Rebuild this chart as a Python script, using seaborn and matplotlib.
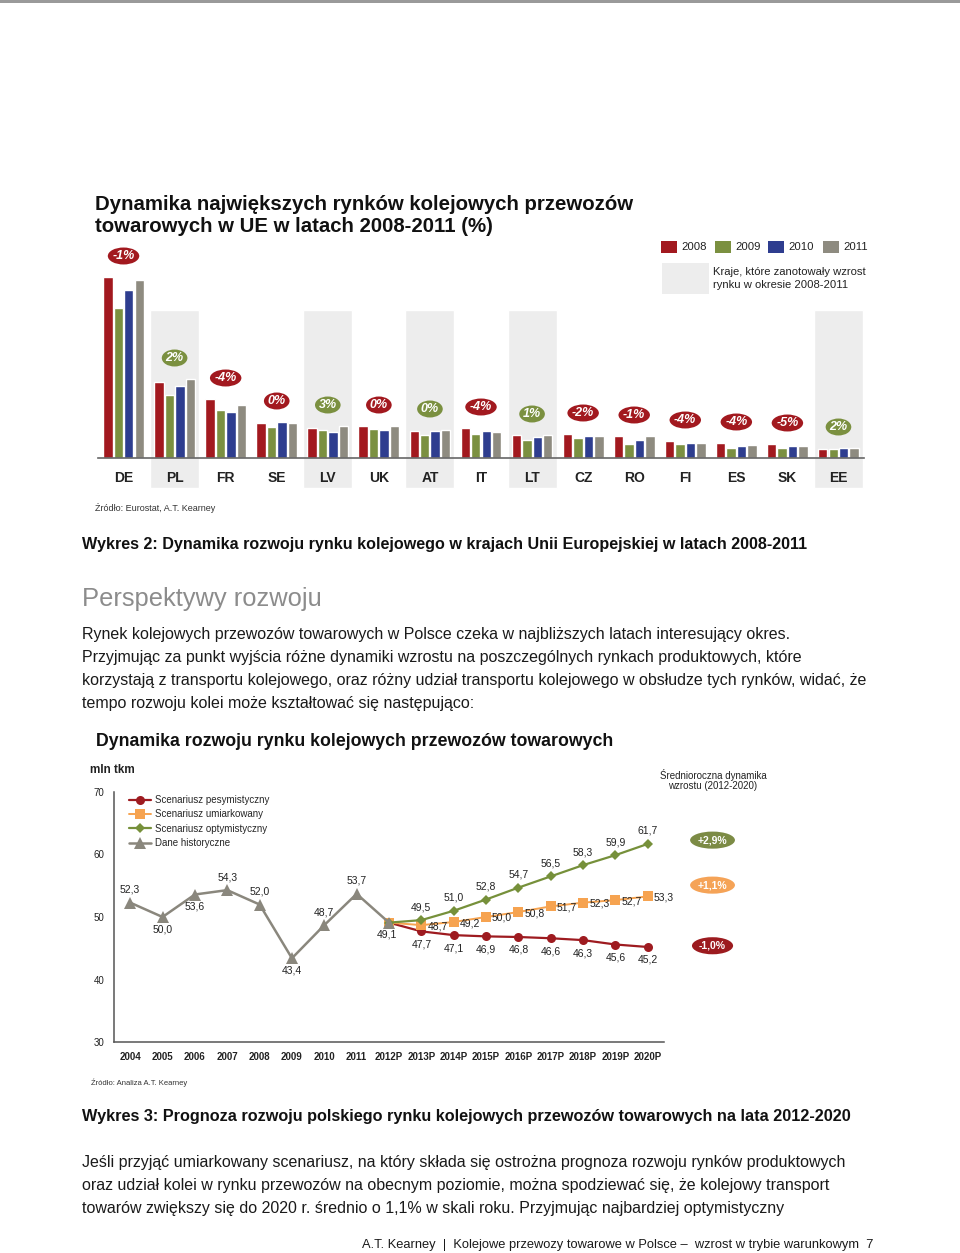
import numpy as np
import pandas as pd
import matplotlib
matplotlib.use("Agg")
import matplotlib.pyplot as plt
from matplotlib.patches import Rectangle
import seaborn as sns

# --- bar chart data (bar heights, no axis scale shown) ---
countries = ["DE", "PL", "FR", "SE", "LV", "UK", "AT", "IT", "LT", "CZ", "RO", "FI", "ES", "SK", "EE"]
v2008 = [181, 76, 59, 35, 30, 32, 27, 30, 23, 24, 22, 17, 15, 14, 9]
v2009 = [150, 63, 48, 31, 28, 29, 23, 24, 18, 20, 14, 14, 10, 10, 9]
v2010 = [168, 72, 46, 36, 26, 28, 27, 27, 21, 22, 18, 15, 12, 12, 10]
v2011 = [178, 79, 53, 35, 32, 32, 28, 26, 23, 22, 22, 15, 13, 12, 10]
change = ["-1%", "2%", "-4%", "0%", "3%", "0%", "0%", "-4%", "1%", "-2%", "-1%", "-4%", "-4%", "-5%", "2%"]
grew = [False, True, False, False, True, False, True, False, True, False, False, False, False, False, True]
bar_years = ["2008", "2009", "2010", "2011"]

# --- line chart data (mln tkm) ---
years = ["2004", "2005", "2006", "2007", "2008", "2009", "2010", "2011",
         "2012P", "2013P", "2014P", "2015P", "2016P", "2017P", "2018P", "2019P", "2020P"]
historical = [52.3, 50.0, 53.6, 54.3, 52.0, 43.4, 48.7, 53.7, 49.1]
hist_side = ["up", "down", "down", "up", "up", "down", "up", "up", "down"]
pessimistic = [49.1, 47.7, 47.1, 46.9, 46.8, 46.6, 46.3, 45.6, 45.2]
moderate = [49.1, 48.7, 49.2, 50.0, 50.8, 51.7, 52.3, 52.7, 53.3]
optimistic = [49.1, 49.5, 51.0, 52.8, 54.7, 56.5, 58.3, 59.9, 61.7]
cagr = ["+2,9%", "+1,1%", "-1,0%"]

RED = "#A2191F"
OLIVE = "#7B9040"
BLUE = "#2E3D8F"
GRAY = "#8E8B80"
ORANGE = "#F6A350"
SHADE = "#EDEDED"
bar_colors = [RED, OLIVE, BLUE, GRAY]

sns.set_style("white")
plt.rcParams["font.family"] = ["Liberation Sans", "DejaVu Sans"]

fig = plt.figure(figsize=(9.6, 12.53), dpi=100)
W, H = 960, 1253


def box(x0, y0, x1, y1):
    # pixel box (top-left origin) -> figure fraction rect
    return [x0 / W, 1 - y1 / H, (x1 - x0) / W, (y1 - y0) / H]


# ================= bar chart =================
ax1 = fig.add_axes(box(98, 248, 864, 458))
bars = pd.DataFrame({
    "country": np.repeat(countries, 4),
    "year": bar_years * len(countries),
    "value": np.ravel(np.column_stack([v2008, v2009, v2010, v2011])),
})
for i, g in enumerate(grew):
    if g:
        ax1.bar(i, 178, bottom=-30, width=0.96, color=SHADE, zorder=0, clip_on=False)
sns.barplot(data=bars, x="country", y="value", hue="year", palette=bar_colors,
            saturation=1, width=0.82, gap=0.1, errorbar=None, legend=False, ax=ax1, zorder=2)
ax1.set_xlim(-0.5, len(countries) - 0.5)
ax1.set_ylim(0, 210)
ax1.set_xlabel("")
ax1.set_ylabel("")
ax1.set_yticks([])
ax1.set_xticks(range(len(countries)))
ax1.set_xticklabels(countries, fontsize=10, fontweight="bold", color="#222")
ax1.set_xticks(np.arange(-0.5, len(countries), 1), minor=True)
ax1.tick_params(axis="x", which="major", length=0, pad=9)
ax1.tick_params(axis="x", which="minor", length=5, width=1, color="#666", direction="out")
for s in ["top", "left", "right"]:
    ax1.spines[s].set_visible(False)
ax1.spines["bottom"].set_color("#666")
ax1.spines["bottom"].set_linewidth(1.2)
ax1.patch.set_alpha(0)

tops = np.max(np.column_stack([v2008, v2009, v2010, v2011]), axis=1)
for i, lab in enumerate(change):
    ax1.text(i, tops[i] + 21, lab, ha="center", va="center", fontsize=9, fontweight="bold",
             style="italic", color="white", zorder=5,
             bbox=dict(boxstyle="ellipse,pad=0.0", fc=OLIVE if grew[i] else RED, ec="none"))

# ================= line chart =================
ax2 = fig.add_axes(box(114, 792, 664, 1042))
n_hist = len(historical)
fc_pos = list(range(n_hist - 1, len(years)))
series = [
    ("Scenariusz pesymistyczny", pessimistic, "o", 6.5, "#9E1B20", 1.6),
    ("Scenariusz umiarkowany", moderate, "s", 6.5, ORANGE, 1.4),
    ("Scenariusz optymistyczny", optimistic, "D", 5, "#76903A", 1.6),
]
for name, vals, mk, ms, col, lw in series:
    sns.lineplot(x=fc_pos, y=vals, marker=mk, markersize=ms, markeredgewidth=0,
                 color=col, linewidth=lw, label=name, ax=ax2)
sns.lineplot(x=list(range(n_hist)), y=historical, marker="^", markersize=8, markeredgewidth=0,
             color="#8A877D", linewidth=1.8, label="Dane historyczne", ax=ax2)

ax2.set_xlim(-0.5, len(years) - 0.5)
ax2.set_ylim(30, 70)
ax2.set_yticks([30, 40, 50, 60, 70])
ax2.set_yticklabels(["30", "40", "50", "60", "70"], fontsize=7, color="#222")
ax2.set_xticks(range(len(years)))
ax2.set_xticklabels(years, fontsize=7, fontweight="bold", color="#222")
ax2.set_xticks(np.arange(-0.5, len(years), 1), minor=True)
ax2.tick_params(axis="x", which="major", length=0, pad=7)
ax2.tick_params(axis="x", which="minor", length=4, width=1, color="#555", direction="out")
ax2.tick_params(axis="y", which="major", length=4, width=1, color="#555", direction="out", pad=3)
ax2.set_xlabel("")
ax2.set_ylabel("")
for s in ["top", "right"]:
    ax2.spines[s].set_visible(False)
for s in ["left", "bottom"]:
    ax2.spines[s].set_color("#555")
    ax2.spines[s].set_linewidth(1.1)
ax2.patch.set_alpha(0)

ax2.legend(loc="upper left", bbox_to_anchor=(0.027, 0.988), frameon=False, fontsize=7,
           handlelength=2.3, handletextpad=0.4, labelspacing=0.45,
           borderpad=0, borderaxespad=0)


def fmt(v):
    return f"{v:.1f}".replace(".", ",")


lab_kw = dict(fontsize=7.5, color="#222", textcoords="offset pixels")
for i, (v, side) in enumerate(zip(historical, hist_side)):
    dy = 13 if side == "up" else -12
    ax2.annotate(fmt(v), (i, v), xytext=(-2 if i == n_hist - 1 else 0, dy),
                 ha="center", va="center", **lab_kw)
for x, v in zip(fc_pos[1:], pessimistic[1:]):
    ax2.annotate(fmt(v), (x, v), xytext=(0, -13), ha="center", va="center", **lab_kw)
for x, v in zip(fc_pos[1:], moderate[1:]):
    ax2.annotate(fmt(v), (x, v), xytext=(6, -1), ha="left", va="center", **lab_kw)
for x, v in zip(fc_pos[1:], optimistic[1:]):
    ax2.annotate(fmt(v), (x, v), xytext=(0, 13), ha="center", va="center", **lab_kw)

badge_y = [62.3, 55.1, 45.4]
for lab, y, col in zip(cagr, badge_y, ["#7C8B45", "#F5A357", "#9C1B1F"]):
    ax2.text(18.0, y, lab, ha="center", va="center", fontsize=7.5, fontweight="bold",
             color="white", clip_on=False,
             bbox=dict(boxstyle="ellipse,pad=0.1", fc=col, ec="none"))

# ================= page text (pixel coordinates) =================
page = fig.add_axes([0, 0, 1, 1])
page.set_xlim(0, W)
page.set_ylim(H, 0)
page.axis("off")
page.add_patch(Rectangle((0, 0), W, 3, fc="#9A9A9A", ec="none"))

page.text(95, 204, "Dynamika największych rynków kolejowych przewozów", fontsize=14.7,
          fontweight="bold", va="center", color="#111")
page.text(95, 226, "towarowych w UE w latach 2008-2011 (%)", fontsize=14.7,
          fontweight="bold", va="center", color="#111")

leg_x = [661, 715, 768, 823]
for x, yr, col in zip(leg_x, bar_years, bar_colors):
    page.add_patch(Rectangle((x, 241), 16, 12, fc=col, ec="none"))
    page.text(x + 20, 247, yr, fontsize=8.2, va="center", color="#222")
page.add_patch(Rectangle((662, 263), 47, 31, fc=SHADE, ec="none"))
page.text(713, 272, "Kraje, które zanotowały wzrost", fontsize=8.1, va="center", color="#222")
page.text(713, 285, "rynku w okresie 2008-2011", fontsize=8.1, va="center", color="#222")

page.text(95, 508, "Źródło: Eurostat, A.T. Kearney", fontsize=6.5, va="center", color="#333")
page.text(82, 545, "Wykres 2: Dynamika rozwoju rynku kolejowego w krajach Unii Europejskiej w latach 2008-2011",
          fontsize=11.6, fontweight="bold", va="center", color="#111")
page.text(82, 599, "Perspektywy rozwoju", fontsize=18.4, va="center", color="#8C8C8C")
para1 = [
    "Rynek kolejowych przewozów towarowych w Polsce czeka w najbliższych latach interesujący okres.",
    "Przyjmując za punkt wyjścia różne dynamiki wzrostu na poszczególnych rynkach produktowych, które",
    "korzystają z transportu kolejowego, oraz różny udział transportu kolejowego w obsłudze tych rynków, widać, że",
    "tempo rozwoju kolei może kształtować się następująco:",
]
for k, line in enumerate(para1):
    page.text(82, 635 + k * 22.7, line, fontsize=11.5, va="center", color="#1a1a1a")

page.text(96, 741, "Dynamika rozwoju rynku kolejowych przewozów towarowych", fontsize=12.75,
          fontweight="bold", va="center", color="#111")
page.text(90, 770, "mln tkm", fontsize=8.4, fontweight="bold", va="center", color="#222")
page.text(713, 780, "Średnioroczna dynamika\nwzrostu (2012-2020)", fontsize=7, ha="center",
          va="center", linespacing=1.05, color="#222")
page.text(91, 1083, "Źródło: Analiza A.T. Kearney", fontsize=5.5, va="center", color="#333")

page.text(82, 1117, "Wykres 3: Prognoza rozwoju polskiego rynku kolejowych przewozów towarowych na lata 2012-2020",
          fontsize=11.7, fontweight="bold", va="center", color="#111")
para2 = [
    "Jeśli przyjąć umiarkowany scenariusz, na który składa się ostrożna prognoza rozwoju rynków produktowych",
    "oraz udział kolei w rynku przewozów na obecnym poziomie, można spodziewać się, że kolejowy transport",
    "towarów zwiększy się do 2020 r. średnio o 1,1% w skali roku. Przyjmując najbardziej optymistyczny",
]
for k, line in enumerate(para2):
    page.text(82, 1163 + k * 22.5, line, fontsize=11.5, va="center", color="#1a1a1a")
page.text(362, 1245, "A.T. Kearney  |  Kolejowe przewozy towarowe w Polsce –  wzrost w trybie warunkowym  7",
          fontsize=9.3, va="center", color="#1a1a1a")

fig.savefig("out.png", dpi=100)
